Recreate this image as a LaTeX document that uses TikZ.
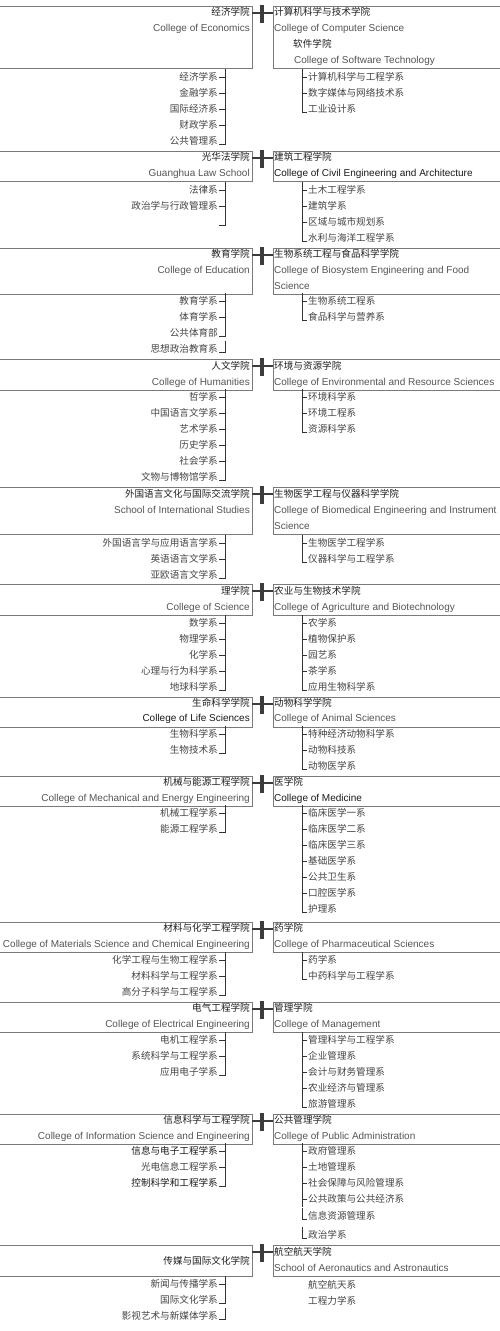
\documentclass[tikz,border=0pt]{standalone}
\usepackage{fontspec}
\setmainfont{Liberation Sans}
\newfontfamily\cjk{Noto Sans CJK SC}
\definecolor{boxc}{HTML}{7A7A7A}
\definecolor{crossc}{HTML}{3C3C3C}
\definecolor{titlec}{HTML}{1E1E1E}
\definecolor{engc}{HTML}{555555}
\definecolor{deptc}{HTML}{444444}
\definecolor{brc}{HTML}{333333}
\definecolor{darkc}{HTML}{1A1A1A}
\tikzset{
  lbox/.style={draw=boxc, line width=0.9pt, anchor=north east, minimum width=262pt, inner sep=0pt, outer sep=0pt},
  rbox/.style={draw=boxc, line width=0.9pt, anchor=north west, minimum width=240pt, inner sep=0pt, outer sep=0pt},
  crossh/.style={draw=crossc, line width=2.2pt},
  crossv/.style={draw=crossc, line width=3.4pt},
  br/.style={draw=brc, line width=0.9pt},
  txt/.style={inner xsep=1pt, inner ysep=0pt, text height=0.8em, text depth=0.2em},
  cjktitle/.style={txt, font=\cjk\fontsize{9.6}{11}\selectfont, text=titlec},
  engtitle/.style={txt, font=\fontsize{10}{12}\selectfont, text=engc},
  cjkdept/.style={txt, font=\cjk\fontsize{9.6}{11}\selectfont, text=deptc},
  ltitle/.style={cjktitle, anchor=east},
  leng/.style={engtitle, anchor=east},
  rtitle/.style={cjktitle, anchor=west},
  reng/.style={engtitle, anchor=west},
  ldept/.style={cjkdept, anchor=east},
  rdept/.style={cjkdept, anchor=west},
}
% block: id, top, height
\newcommand{\Blk}[3]{%
  \node[lbox, minimum height=#3pt] (L#1) at (252,#2) {};
  \node[rbox, minimum height=#3pt] (R#1) at (273,#2) {};
  \draw[crossh] ([yshift=-7pt]L#1.north east) -- ([yshift=-7pt]R#1.north west);
  \draw[crossv] (262,{#2-1}) -- (262,{#2+17});
}
\newcommand{\LTitle}[3]{\node[ltitle] (#1) at (251,#2) {#3};}
\newcommand{\LEng}[3]{\node[leng] (#1) at (251,#2) {#3};}
\newcommand{\RTitle}[3]{\node[rtitle] (#1) at (273,#2) {#3};}
\newcommand{\REng}[3]{\node[reng] (#1) at (273,#2) {#3};}
\newcommand{\LDm}[3]{\node[ldept] (#1) at (219,#2) {#3};
  \draw[br] (#1.east) -- ++(6,0) coordinate (#1k);
  \draw[br] ([yshift=8pt]#1k) -- ([yshift=-8pt]#1k);}
\newcommand{\LDl}[3]{\node[ldept] (#1) at (219,#2) {#3};
  \draw[br] ([yshift=-3pt]#1.east) -- ++(6,0) -- ++(0,-11);}
\newcommand{\RDm}[3]{\node[rdept] (#1) at (307,#2) {#3};
  \draw[br] (#1.west) -- ++(-5,0) coordinate (#1k);
  \draw[br] ([yshift=8pt]#1k) -- ([yshift=-8pt]#1k);}
\newcommand{\RDl}[3]{\node[rdept] (#1) at (307,#2) {#3};
  \draw[br] ([yshift=-3pt]#1.west) -- ++(-5,0) -- ++(0,-11);}
\newcommand{\RDn}[3]{\node[rdept] (#1) at (307,#2) {#3};}
\begin{document}
\begin{tikzpicture}[x=1pt,y=-1pt]
\useasboundingbox (0,0) rectangle (500,1331);
\fill[white] (0,0) rectangle (500,1331);

% ---------- Block 1
\Blk{1}{6}{62}
\LTitle{L1t}{12}{经济学院}
\LEng{L1e}{28}{College of Economics}
\RTitle{R1t}{12}{计算机科学与技术学院}
\REng{R1e}{28}{College of Computer Science}
\node[rtitle] (R1t2) at (292,44) {软件学院};
\node[reng] (R1e2) at (293,60) {College of Software Technology};
\LDm{a1}{77}{经济学系}
\LDm{a2}{93}{金融学系}
\LDm{a3}{109}{国际经济系}
\LDm{a4}{125}{财政学系}
\LDl{a5}{141}{公共管理系}
\RDm{b1}{77}{计算机科学与工程学系}
\RDm{b2}{93}{数字媒体与网络技术系}
\RDl{b3}{109}{工业设计系}

% ---------- Block 2
\Blk{2}{151}{30}
\LTitle{L2t}{157}{光华法学院}
\LEng{L2e}{173}{Guanghua Law School}
\RTitle{R2t}{157}{建筑工程学院}
\node[reng, text=darkc] (R2e) at (273,173) {College of Civil Engineering and Architecture};
\LDm{c1}{190}{法律系}
\LDm{c2}{206}{政治学与行政管理系}
\LDl{c3}{222}{}
\RDm{d1}{190}{土木工程学系}
\RDm{d2}{206}{建筑学系}
\RDm{d3}{222}{区域与城市规划系}
\RDl{d4}{238}{水利与海洋工程学系}

% ---------- Block 3
\Blk{3}{248}{46}
\LTitle{L3t}{254}{教育学院}
\LEng{L3e}{270}{College of Education}
\RTitle{R3t}{254}{生物系统工程与食品科学学院}
\REng{R3e}{270}{College of Biosystem Engineering and Food}
\REng{R3e2}{286}{Science}
\LDm{e1}{301}{教育学系}
\LDm{e2}{317}{体育学系}
\LDl{e3}{333}{公共体育部}
\LDl{e4}{349}{思想政治教育系}
\RDm{f1}{301}{生物系统工程系}
\RDl{f2}{317}{食品科学与营养系}

% ---------- Block 4
\Blk{4}{359}{31}
\LTitle{L4t}{366}{人文学院}
\LEng{L4e}{382}{College of Humanities}
\RTitle{R4t}{366}{环境与资源学院}
\REng{R4e}{382}{College of Environmental and Resource Sciences}
\LDm{g1}{397}{哲学系}
\LDm{g2}{413}{中国语言文学系}
\LDm{g3}{429}{艺术学系}
\LDm{g4}{445}{历史学系}
\LDm{g5}{461}{社会学系}
\LDl{g6}{477}{文物与博物馆学系}
\RDm{h1}{397}{环境科学系}
\RDm{h2}{413}{环境工程系}
\RDl{h3}{429}{资源科学系}

% ---------- Block 5
\Blk{5}{487}{47}
\LTitle{L5t}{494}{外国语言文化与国际交流学院}
\LEng{L5e}{510}{School of International Studies}
\RTitle{R5t}{494}{生物医学工程与仪器科学学院}
\REng{R5e}{510}{College of Biomedical Engineering and Instrument}
\REng{R5e2}{526}{Science}
\LDm{i1}{543}{外国语言学与应用语言学系}
\LDm{i2}{559}{英语语言文学系}
\LDl{i3}{575}{亚欧语言文学系}
\RDm{j1}{543}{生物医学工程学系}
\RDl{j2}{559}{仪器科学与工程学系}

% ---------- Block 6
\Blk{6}{584}{31}
\LTitle{L6t}{591}{理学院}
\LEng{L6e}{607}{College of Science}
\RTitle{R6t}{591}{农业与生物技术学院}
\REng{R6e}{607}{College of Agriculture and Biotechnology}
\LDm{k1}{623}{数学系}
\LDm{k2}{639}{物理学系}
\LDm{k3}{655}{化学系}
\LDm{k4}{671}{心理与行为科学系}
\LDl{k5}{687}{地球科学系}
\RDm{m1}{623}{农学系}
\RDm{m2}{639}{植物保护系}
\RDm{m3}{655}{园艺系}
\RDm{m4}{671}{茶学系}
\RDl{m5}{687}{应用生物科学系}

% ---------- Block 7
\Blk{7}{697}{30}
\LTitle{L7t}{703}{生命科学学院}
\node[leng, text=darkc] (L7e) at (251,718) {College of Life Sciences};
\RTitle{R7t}{703}{动物科学学院}
\REng{R7e}{718}{College of Animal Sciences}
\LDm{n1}{734}{生物科学系}
\LDl{n2}{750}{生物技术系}
\RDm{p1}{734}{特种经济动物科学系}
\RDm{p2}{750}{动物科技系}
\RDl{p3}{766}{动物医学系}

% ---------- Block 8
\Blk{8}{776}{30}
\LTitle{L8t}{782}{机械与能源工程学院}
\LEng{L8e}{798}{College of Mechanical and Energy Engineering}
\RTitle{R8t}{782}{医学院}
\node[reng, text=darkc] (R8e) at (273,798) {College of Medicine};
\LDm{q1}{813}{机械工程学系}
\LDl{q2}{829}{能源工程学系}
\RDm{r1}{813}{临床医学一系}
\RDm{r2}{829}{临床医学二系}
\RDm{r3}{845}{临床医学三系}
\RDm{r4}{861}{基础医学系}
\RDm{r5}{877}{公共卫生系}
\RDm{r6}{893}{口腔医学系}
\RDl{r7}{909}{护理系}

% ---------- Block 9
\Blk{9}{922}{30}
\LTitle{L9t}{928}{材料与化学工程学院}
\LEng{L9e}{944}{College of Materials Science and Chemical Engineering}
\RTitle{R9t}{928}{药学院}
\REng{R9e}{944}{College of Pharmaceutical Sciences}
\LDm{s1}{960}{化学工程与生物工程学系}
\LDm{s2}{976}{材料科学与工程学系}
\LDl{s3}{992}{高分子科学与工程学系}
\RDm{t1}{960}{药学系}
\RDl{t2}{976}{中药科学与工程学系}

% ---------- Block 10
\Blk{10}{1002}{30}
\LTitle{L10t}{1008}{电气工程学院}
\LEng{L10e}{1024}{College of Electrical Engineering}
\RTitle{R10t}{1008}{管理学院}
\REng{R10e}{1024}{College of Management}
\LDm{u1}{1040}{电机工程学系}
\LDm{u2}{1056}{系统科学与工程学系}
\LDl{u3}{1072}{应用电子学系}
\RDm{v1}{1040}{管理科学与工程学系}
\RDm{v2}{1056}{企业管理系}
\RDm{v3}{1072}{会计与财务管理系}
\RDm{v4}{1088}{农业经济与管理系}
\RDl{v5}{1104}{旅游管理系}

% ---------- Block 11
\Blk{11}{1114}{30}
\LTitle{L11t}{1120}{信息科学与工程学院}
\LEng{L11e}{1136}{College of Information Science and Engineering}
\RTitle{R11t}{1120}{公共管理学院}
\REng{R11e}{1136}{College of Public Administration}
\LDm{w1}{1151}{\textcolor{darkc}{信息与电子工程学系}}
\LDm{w2}{1167}{光电信息工程学系}
\LDl{w3}{1183}{\textcolor{darkc}{控制科学和工程学系}}
\RDm{x1}{1151}{政府管理系}
\RDm{x2}{1167}{土地管理系}
\RDm{x3}{1183}{社会保障与风险管理系}
\RDm{x4}{1199}{公共政策与公共经济系}
\RDl{x5}{1216}{信息资源管理系}
\RDl{x6}{1235}{政治学系}

% ---------- Block 12
\Blk{12}{1245}{31}
\LTitle{L12t}{1261}{传媒与国际文化学院}
\RTitle{R12t}{1252}{航空航天学院}
\REng{R12e}{1268}{School of Aeronautics and Astronautics}
\LDm{y1}{1284}{新闻与传播学系}
\LDl{y2}{1300}{国际文化学系}
\LDl{y3}{1316}{影视艺术与新媒体学系}
\RDn{z1}{1285}{航空航天系}
\RDn{z2}{1301}{工程力学系}
\end{tikzpicture}
\end{document}
